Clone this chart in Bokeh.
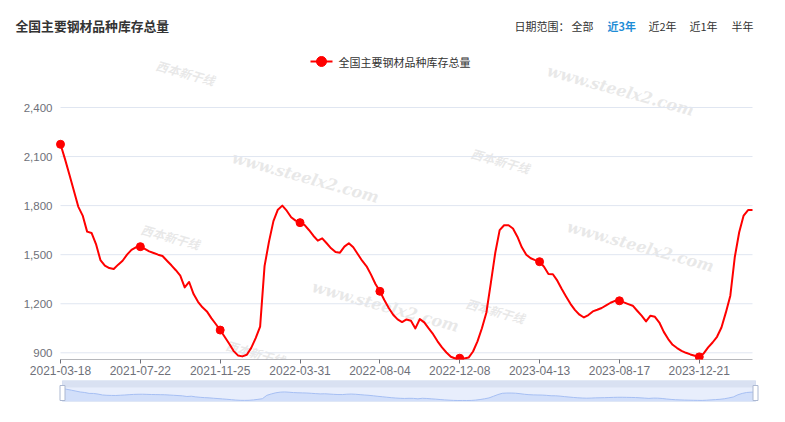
from bokeh.plotting import figure
from bokeh.models import Range1d, FixedTicker, Label, ColumnDataSource
from bokeh.layouts import column
from bokeh.core.properties import value
from bokeh.embed import file_html
from bokeh.resources import INLINE

# ---------------- data ----------------
title_text = "全国主要钢材品种库存总量"
series_name = "全国主要钢材品种库存总量"
range_caption = "日期范围："
range_options = ["全部", "近3年", "近2年", "近1年", "半年"]
active_option = "近3年"
watermark_url = "www.steelx2.com"
watermark_logo = "西本新干线"

x_tick_labels = ["2021-03-18", "2021-07-22", "2021-11-25", "2022-03-31", "2022-08-04",
                 "2022-12-08", "2023-04-13", "2023-08-17", "2023-12-21"]
y_ticks = [900, 1200, 1500, 1800, 2100, 2400]

# weekly inventory, 2021-03-18 .. 2024-03-14
inventory = [
    2175, 2086, 1990, 1892, 1794, 1739, 1641, 1633, 1565, 1467,
    1433, 1418, 1412, 1439, 1463, 1500, 1529, 1545, 1549, 1535,
    1520, 1510, 1500, 1492, 1463, 1435, 1405, 1372, 1300, 1333,
    1259, 1212, 1178, 1153, 1112, 1076, 1039, 998, 957, 912,
    884, 878, 888, 930, 990, 1060, 1430, 1580, 1705, 1775,
    1800, 1769, 1729, 1708, 1696, 1682, 1651, 1616, 1586, 1600,
    1570, 1539, 1516, 1512, 1549, 1570, 1545, 1504, 1463, 1429,
    1378, 1321, 1276, 1223, 1174, 1133, 1104, 1088, 1104, 1096,
    1049, 1106, 1086, 1049, 1014, 970, 933, 902, 876, 865,
    867, 865, 871, 908, 970, 1050, 1145, 1325, 1510, 1650,
    1680, 1680, 1660, 1610, 1545, 1500, 1478, 1467, 1457, 1426,
    1382, 1380, 1341, 1290, 1243, 1198, 1161, 1133, 1116, 1131,
    1153, 1163, 1174, 1190, 1206, 1218, 1218, 1208, 1198, 1188,
    1157, 1127, 1092, 1127, 1120, 1085, 1028, 984, 949, 929,
    912, 900, 890, 882, 875, 896, 933, 963, 998, 1055,
    1147, 1249, 1484, 1637, 1739, 1773, 1773,
]
label_step = 18

weeks = list(range(len(inventory)))
tick_idx = weeks[::label_step]
marker_x = weeks[::label_step]
marker_y = inventory[::label_step]

# ---------------- geometry (page pixels) ----------------
W = 785
Y0, Y1 = 859, 2400
X0, X1 = 0, len(inventory) - 1
FL, FR, FT, FB = 60, 752, 107, 359      # plotting area
SL_L, SL_R, SL_TOP, SL_BOT = 62, 755, 380, 401   # slider

CJK = "Noto Sans CJK SC"
LAT = "Liberation Sans"
TXT = "#333333"
AXC = "#6e7079"


def xd(sx):
    return X0 + (sx - FL) * (X1 - X0) / (FR - FL)


def yd(sy):
    return Y1 - (sy - FT) * (Y1 - Y0) / (FB - FT)


# ---------------- main figure (frame spans whole canvas above the x axis) ----------------
p = figure(width=W, height=SL_TOP, x_range=Range1d(xd(0), xd(W)), y_range=Range1d(yd(FB), yd(0)),
           output_backend="svg", toolbar_location=None, y_axis_location=None,
           min_border_left=0, min_border_right=0, min_border_top=0,
           min_border_bottom=SL_TOP - FB)
p.outline_line_color = None
p.xgrid.visible = False
p.ygrid.visible = False

p.xaxis.ticker = FixedTicker(ticks=tick_idx)
p.xaxis.major_label_overrides = {i: lbl for i, lbl in zip(tick_idx, x_tick_labels)}
p.xaxis.axis_line_color = None
p.xaxis.major_tick_line_color = AXC
p.xaxis.major_tick_out = 4
p.xaxis.major_tick_in = 0
p.xaxis.minor_tick_line_color = None
p.xaxis.major_label_standoff = 2
p.xaxis.major_label_text_font = LAT
p.xaxis.major_label_text_font_size = "12px"
p.xaxis.major_label_text_color = AXC

# faint watermarks
for (sx, sy) in [(305, 177), (620, 90), (640, 246), (385, 306)]:
    p.add_layout(Label(x=xd(sx), y=yd(sy), text=watermark_url, angle=-0.27, level="underlay",
                       text_align="center", text_baseline="middle",
                       text_font="DejaVu Serif", text_font_style="bold italic",
                       text_font_size="16px", text_color="#d9d9d9", text_alpha=0.6))
for (sx, sy) in [(185, 72), (170, 236), (500, 160), (495, 310), (255, 352)]:
    p.add_layout(Label(x=xd(sx), y=yd(sy), text=watermark_logo, angle=-0.27, level="underlay",
                       text_align="center", text_baseline="middle",
                       text_font=CJK, text_font_style="bold italic",
                       text_font_size="12px", text_color="#d9d9d9", text_alpha=0.6))

# value axis: grid lines and labels
n_y = len(y_ticks)
p.segment(x0=[X0] * n_y, x1=[X1] * n_y, y0=y_ticks, y1=y_ticks,
          line_color="#e0e6f1", line_width=1)
p.text(x=[xd(FL - 8)] * n_y, y=y_ticks, text=[f"{v:,}" for v in y_ticks],
       text_align="right", text_baseline="middle", text_font=value(LAT),
       text_font_size="11.5px", text_color=AXC)
# category axis line
p.segment(x0=[X0], x1=[X1], y0=[Y0], y1=[Y0], line_color=AXC, line_width=1)

# series
p.line(weeks, inventory, line_color="#ff0000", line_width=2, line_join="round")
p.scatter(marker_x, marker_y, size=8, fill_color="#ff0000", line_color="#ff0000")

# title
p.text(x=[xd(15)], y=[yd(25)], text=[title_text], text_font=value(CJK),
       text_font_size="12.8px", text_font_style="bold", text_color=TXT,
       text_align="left", text_baseline="middle")

# date range selector
opt_src = ColumnDataSource(dict(
    x=[xd(s) for s in [514, 571, 607, 648, 689, 731]],
    y=[yd(25)] * 6,
    text=[range_caption] + range_options,
    color=[TXT] + ["#1f8dd6" if o == active_option else TXT for o in range_options],
    style=["normal"] + ["bold" if o == active_option else "normal" for o in range_options],
))
p.text(x="x", y="y", text="text", text_color="color", text_font_style="style",
       source=opt_src, text_font=value(CJK), text_font_size="11px",
       text_align="left", text_baseline="middle")

# legend
p.segment(x0=[xd(310)], y0=[yd(61)], x1=[xd(332)], y1=[yd(61)],
          line_color="#ff0000", line_width=2)
p.scatter(x=[xd(321)], y=[yd(61)], size=10, fill_color="#ff0000", line_color="#ff0000")
p.text(x=[xd(338)], y=[yd(61)], text=[series_name], text_font=value(CJK),
       text_font_size="11px", text_color=TXT, text_align="left", text_baseline="middle")

# ---------------- data-zoom slider ----------------
span = max(inventory) - min(inventory)
mini_lo = min(inventory) - span / 12
mini_hi = mini_lo + (SL_BOT - SL_TOP) * span / 12
pxu = (SL_R - SL_L) / (X1 - X0)

p2 = figure(width=W, height=30,
            x_range=Range1d(X0 - SL_L / pxu, X1 + (W - SL_R) / pxu),
            y_range=Range1d(0, SL_BOT - SL_TOP),
            output_backend="svg", toolbar_location=None,
            x_axis_location=None, y_axis_location=None,
            min_border_left=0, min_border_right=0,
            min_border_top=0, min_border_bottom=30 - (SL_BOT - SL_TOP))
p2.outline_line_color = None
p2.xgrid.visible = False
p2.ygrid.visible = False
p2.extra_y_ranges = {"mini": Range1d(mini_lo, mini_hi)}

p2.quad(left=X0, right=X1, bottom=0, top=21, fill_color="#e8eefc",
        line_color="#d2dbee", line_width=1)
p2.quad(left=X0, right=X1, bottom=14, top=21, fill_color="#d9e1f2", line_color=None)
p2.varea(x=weeks, y1=[mini_lo] * len(weeks), y2=inventory, y_range_name="mini",
         fill_color="#c9d8fa", fill_alpha=0.7)
p2.line(weeks, inventory, y_range_name="mini", line_color="#a6bff3", line_width=1)
p2.rect(x=[X0, X1], y=[8.5, 8.5], width=5, height=15, width_units="screen",
        height_units="screen", fill_color="white", line_color="#acb8d1")

layout = column(p, p2, spacing=0)

with open("out.html", "w") as f:
    f.write(file_html(layout, INLINE))
